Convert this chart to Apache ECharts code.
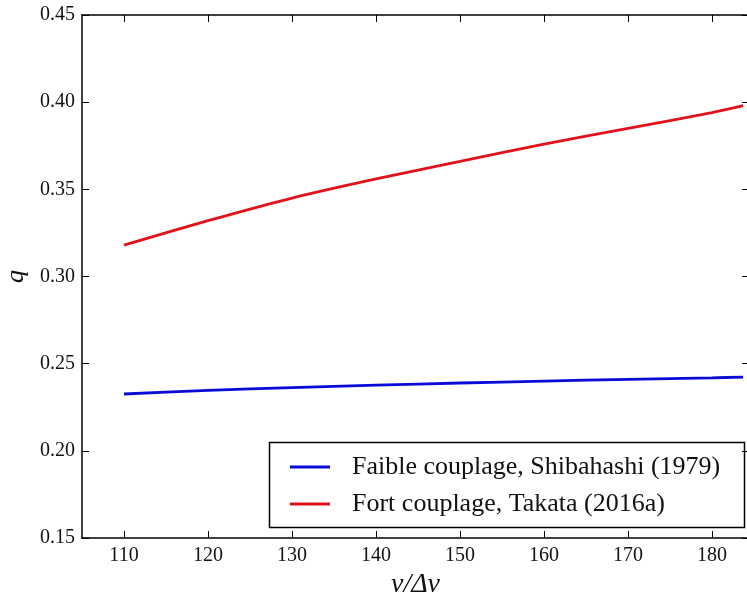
<!DOCTYPE html>
<html>
<head>
<meta charset="UTF-8">
<title>q vs nu/dnu</title>
<script src="https://cdn.jsdelivr.net/npm/echarts@6/dist/echarts.min.js"></script>
<style>
  html, body { margin: 0; padding: 0; background: #fff; }
  #container { width: 747px; height: 602px; }
</style>
</head>
<body>
<div id="container"></div>
<script>
// values
var nuRatio = [110, 120, 130, 140, 150, 160, 170, 180, 183.7];
var faible  = [0.2326, 0.2347, 0.2363, 0.2377, 0.2389, 0.2400, 0.2410, 0.2419, 0.2423];
var fort    = [0.318, 0.332, 0.345, 0.356, 0.366, 0.376, 0.385, 0.394, 0.398];
var xTicks  = [110, 120, 130, 140, 150, 160, 170, 180];
var seriesNames = ['Faible couplage, Shibahashi (1979)', 'Fort couplage, Takata (2016a)'];

function pairs(ys) {
    var out = [];
    for (var i = 0; i < nuRatio.length; i++) out.push([nuRatio[i], ys[i]]);
    return out;
}

var serif = '"Liberation Serif", "DejaVu Serif", serif';
var xMin = 105, xMax = 184.4;

var mychart = echarts.init(document.getElementById('container'));

var axisCommon = {
    axisLine: { show: true, lineStyle: { color: '#000', width: 1.5 } },
    axisTick: { show: true, inside: true, length: 7, lineStyle: { color: '#000', width: 1 } },
    splitLine: { show: false }
};

var option = {
    animation: false,
    backgroundColor: '#fff',
    grid: { left: 82, right: -2, top: 15, bottom: 64, outerBoundsMode: 'none', containLabel: false },
    legend: {
        data: seriesNames,
        orient: 'vertical',
        left: 285,
        top: 448,
        icon: 'rect',
        itemWidth: 40,
        itemHeight: 3,
        itemGap: 9,
        textStyle: { fontFamily: serif, fontSize: 26, color: '#111', lineHeight: 28, padding: [0, 0, 0, 17] }
    },
    graphic: [{
        type: 'rect',
        left: 267, top: 440,
        shape: { width: 475, height: 85 },
        style: { fill: 'none', stroke: '#000', lineWidth: 1.5 },
        z: 10
    }],
    xAxis: [
        Object.assign({}, axisCommon, {
            type: 'value', position: 'bottom', min: xMin, max: xMax,
            name: 'ν/Δν', nameLocation: 'middle', nameGap: 30,
            nameTextStyle: { fontFamily: serif, fontStyle: 'italic', fontSize: 28, color: '#111' },
            axisTick: Object.assign({}, axisCommon.axisTick, { customValues: xTicks }),
            axisLabel: { customValues: xTicks, margin: 8, fontFamily: serif, fontSize: 20, color: '#111' }
        }),
        Object.assign({}, axisCommon, {
            type: 'value', position: 'top', min: xMin, max: xMax,
            axisTick: Object.assign({}, axisCommon.axisTick, { customValues: xTicks }),
            axisLabel: { show: false }
        })
    ],
    yAxis: [
        Object.assign({}, axisCommon, {
            type: 'value', position: 'left', min: 0.15, max: 0.45, interval: 0.05,
            name: 'q', nameLocation: 'middle', nameGap: 50, nameRotate: 90,
            nameTextStyle: { fontFamily: serif, fontStyle: 'italic', fontSize: 26, color: '#111' },
            axisLabel: {
                margin: 7, fontFamily: serif, fontSize: 20, color: '#111',
                formatter: function (v) { return v.toFixed(2); }
            }
        }),
        Object.assign({}, axisCommon, {
            type: 'value', position: 'right', min: 0.15, max: 0.45, interval: 0.05,
            axisLabel: { show: false }
        })
    ],
    series: [
        {
            name: seriesNames[0], type: 'line', data: pairs(faible),
            showSymbol: false, smooth: 0.3, color: '#0b0bd8',
            lineStyle: { width: 2.8, color: '#0b0bd8' }
        },
        {
            name: seriesNames[1], type: 'line', data: pairs(fort),
            showSymbol: false, smooth: 0.3, color: '#e0131a',
            lineStyle: { width: 2.8, color: '#e0131a' }
        }
    ]
};

mychart.setOption(option);
</script>
</body>
</html>
